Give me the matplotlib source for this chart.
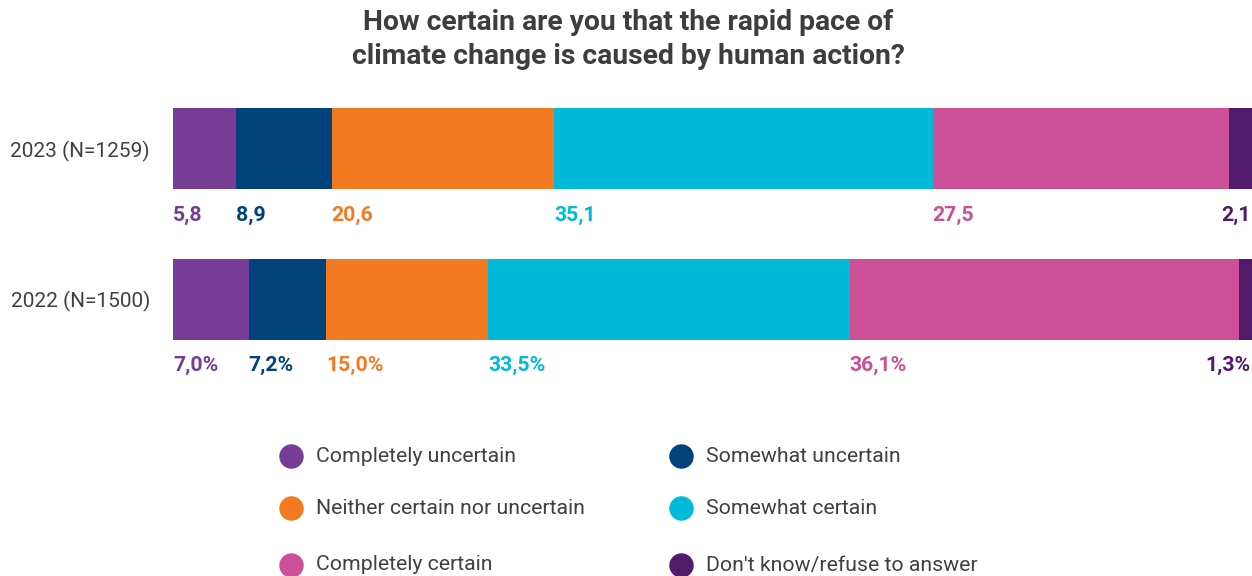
import matplotlib.pyplot as plt
import numpy as np

plt.rcParams['font.family'] = ['Roboto', 'DejaVu Sans']

categories = ['Completely uncertain', 'Somewhat uncertain', 'Neither certain nor uncertain',
              'Somewhat certain', 'Completely certain', "Don't know/refuse to answer"]
colors = ['#763C96', '#00427A', '#F47A22', '#00BAD8', '#CC5098', '#521A6A']
years = ['2023 (N=1259)', '2022 (N=1500)']
v2023 = [5.8, 8.9, 20.6, 35.1, 27.5, 2.1]
v2022 = [7.0, 7.2, 15.0, 33.5, 36.1, 1.3]
lab2023 = ['5,8', '8,9', '20,6', '35,1', '27,5', '2,1']
lab2022 = ['7,0%', '7,2%', '15,0%', '33,5%', '36,1%', '1,3%']

fig = plt.figure(figsize=(12.52, 5.76), dpi=100)
W, H = 1252, 576
ax = fig.add_axes([173 / W, 1 - 340 / H, 1 - 173 / W, 232 / H])

h = 0.54
rows = [v2023, v2022]
labs = [lab2023, lab2022]
for r, (vals, lab) in enumerate(zip(rows, labs)):
    left = 0
    for i, v in enumerate(vals):
        ax.barh(r, v, left=left, height=h, color=colors[i], linewidth=0)
        if i == len(vals) - 1:
            ax.text(99.85, r + 0.44, lab[i], ha='right', va='center', color=colors[i],
                    fontsize=15.3, fontweight='bold')
        else:
            ax.text(left, r + 0.44, lab[i], ha='left', va='center', color=colors[i],
                    fontsize=15.3, fontweight='bold')
        left += v

ax.set_xlim(0, 100)
ax.set_ylim(1 + h / 2, -h / 2)
ax.set_yticks([0, 1])
ax.set_yticklabels(years, fontsize=15, color='#404040')
ax.tick_params(axis='y', length=0, pad=16.5)
ax.set_xticks([])
for s in ax.spines.values():
    s.set_visible(False)
ax.patch.set_alpha(0)

fig.text(0.502, 1 - 23 / H, 'How certain are you that the rapid pace of', ha='center', va='center',
         fontsize=20.3, fontweight='bold', color='#3d3d3d')
fig.text(0.502, 1 - 56 / H, 'climate change is caused by human action?', ha='center', va='center',
         fontsize=20.3, fontweight='bold', color='#3d3d3d')

# legend
lg = fig.add_axes([0, 0, 1, 1])
lg.set_xlim(0, W)
lg.set_ylim(H, 0)
lg.axis('off')
lx = [291, 681]
ly = [456, 508, 565]
for i, c in enumerate(categories):
    x = lx[i % 2]
    y = ly[i // 2]
    lg.scatter(x, y, s=310, color=colors[i], linewidth=0)
    lg.text(x + 25, y, c, ha='left', va='center', fontsize=15.3, color='#404040')

plt.savefig('out.png', dpi=100)
